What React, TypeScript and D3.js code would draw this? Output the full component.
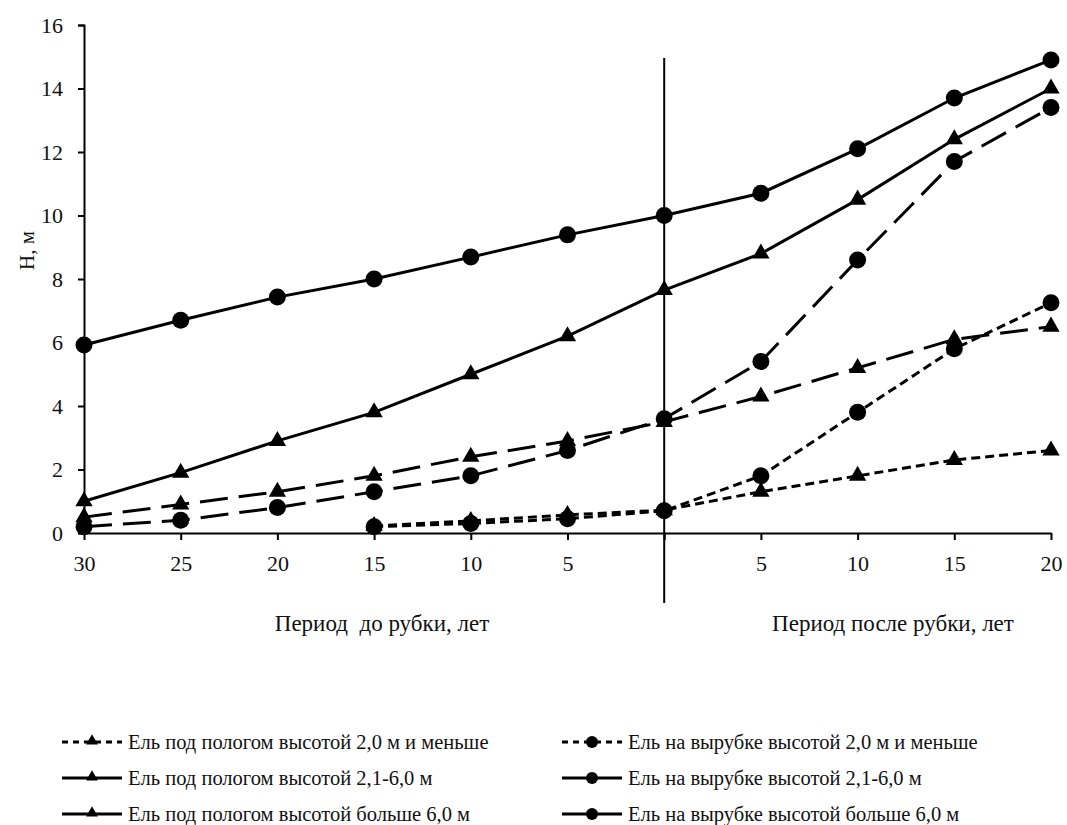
import React, { useRef, useEffect } from "react";
import * as d3 from "d3";

// categories along x: 30..5 years before cutting, the cut (0), 5..20 after
const xLabels = ["30", "25", "20", "15", "10", "5", "", "5", "10", "15", "20"];
const yTicks = [0, 2, 4, 6, 8, 10, 12, 14, 16];

// heights, m (null = no measurement)
const canopySmall = [null, null, null, 0.22, 0.38, 0.57, 0.72, 1.3, 1.8, 2.3, 2.6];
const clearingSmall = [null, null, null, 0.2, 0.3, 0.45, 0.7, 1.8, 3.8, 5.8, 7.25];
const canopyMid = [0.5, 0.9, 1.3, 1.8, 2.4, 2.9, 3.5, 4.3, 5.2, 6.1, 6.5];
const clearingMid = [0.2, 0.4, 0.8, 1.3, 1.8, 2.6, 3.6, 5.4, 8.6, 11.7, 13.4];
const canopyBig = [1.0, 1.9, 2.9, 3.8, 5.0, 6.2, 7.65, 8.8, 10.5, 12.4, 14.0];
const clearingBig = [5.92, 6.7, 7.43, 8.0, 8.69, 9.39, 10.0, 10.7, 12.1, 13.7, 14.9];

const legendNames = [
  "Ель под пологом высотой 2,0 м и меньше",
  "Ель на вырубке высотой 2,0 м и меньше",
  "Ель под пологом высотой 2,1-6,0 м",
  "Ель на вырубке высотой 2,1-6,0 м",
  "Ель под пологом высотой больше 6,0 м",
  "Ель на вырубке высотой больше 6,0 м",
];

const FONT = "'Times New Roman', 'Liberation Serif', 'DejaVu Serif', serif";
const SHORT = "9,5";
const LONG = "28,11";

const series = [
  { values: canopyMid, marker: "tri", dash: LONG, legendDash: null },
  { values: clearingMid, marker: "dot", dash: LONG, legendDash: null },
  { values: canopySmall, marker: "tri", dash: SHORT, legendDash: "6,5" },
  { values: clearingSmall, marker: "dot", dash: SHORT, legendDash: "6,5" },
  { values: canopyBig, marker: "tri", dash: null, legendDash: null },
  { values: clearingBig, marker: "dot", dash: null, legendDash: null },
];
// legend order -> series index
const legendOrder = [2, 3, 0, 1, 4, 5];

const App = () => {
  const ref = useRef<HTMLDivElement>(null);

  useEffect(() => {
    const width = 1067;
    const height = 825;
    d3.select(ref.current).select("svg").remove();

    const svg = d3
      .select(ref.current)
      .append("svg")
      .attr("width", width)
      .attr("height", height)
      .attr("font-family", FONT)
      .style("position", "absolute")
      .style("left", "0px")
      .style("top", "0px")
      .style("background", "#fff");

    const x = d3
      .scalePoint<number>()
      .domain(d3.range(xLabels.length))
      .range([84, 1051]);
    const y = d3.scaleLinear().domain([0, 16]).range([533, 25]);

    // axes
    const yAxis = d3
      .axisLeft(y)
      .tickValues(yTicks)
      .tickSize(6)
      .tickPadding(15)
      .tickSizeOuter(6)
      .tickFormat((d) => String(d));
    const gy = svg.append("g").attr("transform", `translate(${x(0)},0)`).call(yAxis);

    const xAxis = d3
      .axisBottom(x)
      .tickSize(7)
      .tickSizeOuter(0)
      .tickPadding(15)
      .tickFormat((d) => xLabels[d as number]);
    const gx = svg.append("g").attr("transform", `translate(0,${y(0)})`).call(xAxis);

    [gx, gy].forEach((g) => {
      g.attr("font-family", FONT).attr("font-size", 22);
      g.select(".domain").attr("stroke", "#000").attr("stroke-width", 2);
      g.selectAll(".tick line").attr("stroke", "#000").attr("stroke-width", 2);
      g.selectAll(".tick text").attr("fill", "#111");
    });

    // cutting moment
    svg
      .append("line")
      .attr("x1", x(6)!)
      .attr("x2", x(6)!)
      .attr("y1", 58)
      .attr("y2", 603)
      .attr("stroke", "#000")
      .attr("stroke-width", 2);

    svg
      .append("text")
      .attr("transform", `translate(34,${y(8.9)}) rotate(-90)`)
      .attr("text-anchor", "middle")
      .attr("font-size", 21)
      .attr("fill", "#111")
      .text("Н, м");

    svg
      .append("text")
      .attr("x", 382)
      .attr("y", 631)
      .attr("text-anchor", "middle")
      .attr("font-size", 23)
      .style("white-space", "pre")
      .attr("fill", "#111")
      .text("Период  до рубки, лет");

    svg
      .append("text")
      .attr("x", 893)
      .attr("y", 631)
      .attr("text-anchor", "middle")
      .attr("font-size", 23)
      .attr("fill", "#111")
      .text("Период после рубки, лет");

    const line = d3
      .line<number | null>()
      .defined((d) => d !== null)
      .x((d, i) => x(i)!)
      .y((d) => y(d as number));

    const triangle = d3.symbol().type(d3.symbolTriangle).size(130);

    series.forEach((s) => {
      svg
        .append("path")
        .datum(s.values)
        .attr("fill", "none")
        .attr("stroke", "#000")
        .attr("stroke-width", 3)
        .attr("stroke-dasharray", s.dash)
        .attr("d", line);

      const pts = s.values
        .map((v, i) => ({ v, i }))
        .filter((p) => p.v !== null);

      if (s.marker === "dot") {
        svg
          .append("g")
          .selectAll("circle")
          .data(pts)
          .enter()
          .append("circle")
          .attr("cx", (p) => x(p.i)!)
          .attr("cy", (p) => y(p.v as number))
          .attr("r", 8.5)
          .attr("fill", "#000");
      } else {
        svg
          .append("g")
          .selectAll("path")
          .data(pts)
          .enter()
          .append("path")
          .attr("d", triangle)
          .attr("transform", (p) => `translate(${x(p.i)},${y(p.v as number)})`)
          .attr("fill", "#000");
      }
    });

    // legend
    const legend = svg.append("g");
    const smallTri = d3.symbol().type(d3.symbolTriangle).size(60);
    legendOrder.forEach((si, k) => {
      const s = series[si];
      const col = k % 2;
      const row = Math.floor(k / 2);
      const lx = col === 0 ? 62 : 562;
      const ly = 742 + row * 36;
      const g = legend.append("g").attr("transform", `translate(${lx},${ly})`);
      g.append("line")
        .attr("x1", 0)
        .attr("x2", 60)
        .attr("y1", 0)
        .attr("y2", 0)
        .attr("stroke", "#000")
        .attr("stroke-width", 3)
        .attr("stroke-dasharray", s.legendDash);
      if (s.marker === "dot") {
        g.append("circle").attr("cx", 30).attr("cy", 0).attr("r", 6).attr("fill", "#000");
      } else {
        g.append("path").attr("d", smallTri).attr("transform", "translate(30,-1)").attr("fill", "#000");
      }
      g.append("text")
        .attr("x", 66)
        .attr("y", 0)
        .attr("dy", "0.35em")
        .attr("font-size", 20.5)
        .attr("fill", "#111")
        .text(legendNames[k]);
    });
  }, []);

  return <div ref={ref}></div>;
};

export default App;
